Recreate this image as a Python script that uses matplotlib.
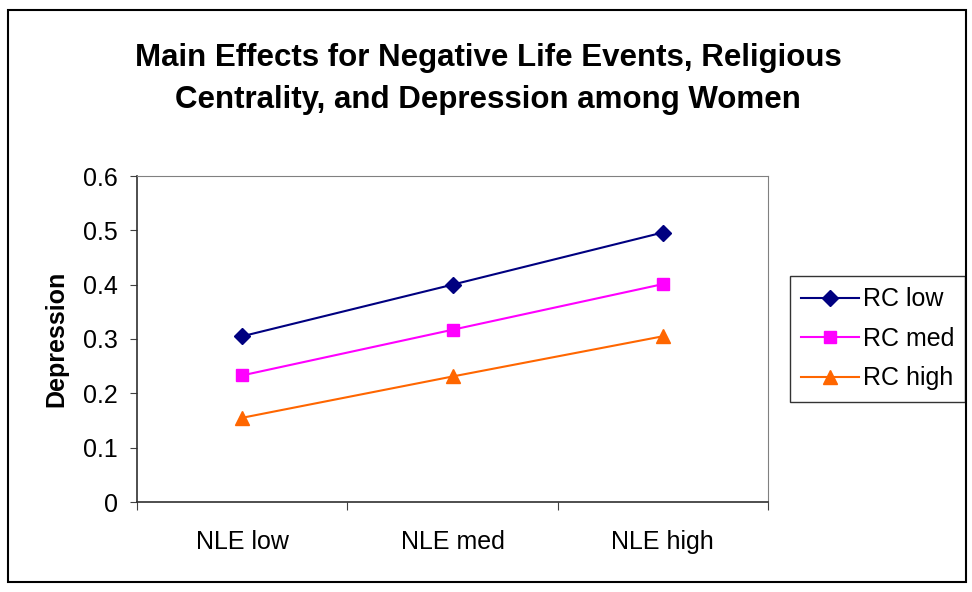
import matplotlib.pyplot as plt
from matplotlib.patches import Rectangle

plt.rcParams['font.family'] = ['Liberation Sans', 'DejaVu Sans']

categories = ['NLE low', 'NLE med', 'NLE high']
rc_low = [0.305, 0.400, 0.496]
rc_med = [0.233, 0.317, 0.401]
rc_high = [0.155, 0.231, 0.305]
y_ticks = [0, 0.1, 0.2, 0.3, 0.4, 0.5, 0.6]
y_labels = ['0', '0.1', '0.2', '0.3', '0.4', '0.5', '0.6']

fig = plt.figure(figsize=(9.72, 5.92), dpi=100)

# outer chart border
fig.patches.append(Rectangle((8 / 972, 10 / 592), 958 / 972, 572 / 592,
                             transform=fig.transFigure, fill=False,
                             edgecolor='black', linewidth=1.5))

ax = fig.add_axes([137 / 972, 90 / 592, 631 / 972, 326 / 592])
x = range(len(categories))

ax.plot(x, rc_low, color='#000080', marker='D', markersize=8, linewidth=1.5, label='RC low')
ax.plot(x, rc_med, color='#FF00FF', marker='s', markersize=8, linewidth=1.5, label='RC med')
ax.plot(x, rc_high, color='#FF6600', marker='^', markersize=10, linewidth=1.5, label='RC high')

ax.set_xlim(-0.5, 2.5)
ax.set_ylim(0, 0.6)
ax.set_yticks(y_ticks)
ax.set_yticklabels(y_labels, fontsize=18)

# ticks between categories, labels centred on them
ax.set_xticks([-0.5, 0.5, 1.5, 2.5])
ax.set_xticklabels([])
ax.set_xticks(list(x), minor=True)
ax.set_xticklabels(categories, minor=True, fontsize=18)
ax.tick_params(axis='x', which='minor', length=0, pad=20)
ax.tick_params(axis='x', which='major', length=6, direction='out', color='#404040')
ax.tick_params(axis='y', length=5, direction='out', pad=9, color='#404040')

for side in ['top', 'right']:
    ax.spines[side].set_color('#808080')
for side in ['left', 'bottom']:
    ax.spines[side].set_linewidth(1.2)
    ax.spines[side].set_color('#303030')

ax.set_ylabel('Depression', fontsize=18, fontweight='bold', labelpad=10)

fig.text(488 / 972, 1 - 79 / 592, 'Main Effects for Negative Life Events, Religious\nCentrality, and Depression among Women',
         ha='center', va='center', fontsize=22.5, fontweight='bold', linespacing=1.55)

leg = ax.legend(loc='center left', bbox_to_anchor=(1.035, 0.5), fontsize=18,
                frameon=True, fancybox=False, edgecolor='black', handlelength=2.3,
                handletextpad=0.15, labelspacing=0.62, borderpad=0.45, borderaxespad=0)
leg.get_frame().set_linewidth(1.0)

fig.savefig('out.png', dpi=100)
